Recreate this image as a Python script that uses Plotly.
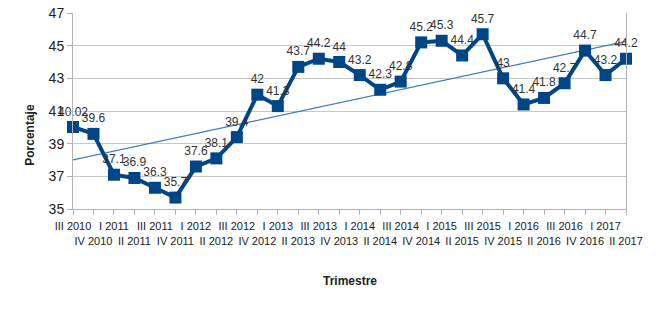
import numpy as np
import plotly.graph_objects as go

quarters = ["III 2010", "IV 2010", "I 2011", "II 2011", "III 2011", "IV 2011",
            "I 2012", "II 2012", "III 2012", "IV 2012", "I 2013", "II 2013",
            "III 2013", "IV 2013", "I 2014", "II 2014", "III 2014", "IV 2014",
            "I 2015", "II 2015", "III 2015", "IV 2015", "I 2016", "II 2016",
            "III 2016", "IV 2016", "I 2017", "II 2017"]
values = [40.02, 39.6, 37.1, 36.9, 36.3, 35.7, 37.6, 38.1, 39.4, 42, 41.3, 43.7,
          44.2, 44, 43.2, 42.3, 42.8, 45.2, 45.3, 44.4, 45.7, 43, 41.4, 41.8,
          42.7, 44.7, 43.2, 44.2]
y_ticks = [35, 37, 39, 41, 43, 45, 47]

idx = np.arange(len(quarters))
slope, intercept = np.polyfit(idx, values, 1)
trend_x = [idx[0], idx[-1]]
trend_y = [intercept + slope * idx[0], intercept + slope * idx[-1]]

ticktext = [q if i % 2 == 0 else "<br>" + q for i, q in enumerate(quarters)]

fig = go.Figure()
fig.add_trace(go.Scatter(x=trend_x, y=trend_y, mode="lines",
                         line=dict(color="#3f7cbf", width=1.2),
                         hoverinfo="skip", showlegend=False))
fig.add_trace(go.Scatter(
    x=idx, y=values, mode="lines+markers+text",
    line=dict(color="#004586", width=4),
    marker=dict(symbol="square", size=12, color="#004586"),
    text=[str(v) for v in values], textposition="top center",
    textfont=dict(family="Liberation Sans, Arial", size=12, color="#333333"),
    cliponaxis=False, showlegend=False))

fig.update_layout(
    width=656, height=309,
    margin=dict(l=65, r=38, t=5, b=108, autoexpand=False),
    paper_bgcolor="white", plot_bgcolor="white",
    font=dict(family="Liberation Sans, Arial", color="#333333"),
    xaxis=dict(range=[0, len(quarters) - 1], tickmode="array",
               tickvals=list(idx), ticktext=ticktext,
               tickfont=dict(size=11, color="#222222"), tickangle=0,
               ticks="outside", ticklen=5, tickcolor="#b3b3b3",
               ticklabelstandoff=2, ticklabeloverflow="allow",
               showline=True, linecolor="#b3b3b3", showgrid=False,
               zeroline=False, automargin=False),
    yaxis=dict(range=[35, 47], tickvals=y_ticks,
               tickfont=dict(size=14, color="#222222"),
               ticks="outside", ticklen=5, tickcolor="#b3b3b3",
               ticklabeloverflow="allow",
               showline=True, linecolor="#b3b3b3", mirror=True,
               gridcolor="#c8c8c8", zeroline=False, automargin=False),
)
fig.add_annotation(text="<b>Porcentaje</b>", xref="paper", yref="paper",
                   x=-0.078, y=0.378, xanchor="center", yanchor="middle",
                   textangle=-90, showarrow=False,
                   font=dict(size=12, color="#222222"))
fig.add_annotation(text="<b>Trimestre</b>", xref="paper", yref="paper",
                   x=0.5, y=-0.367, xanchor="center", yanchor="middle",
                   showarrow=False,
                   font=dict(size=12, color="#222222"))
fig.write_html("out.html")
